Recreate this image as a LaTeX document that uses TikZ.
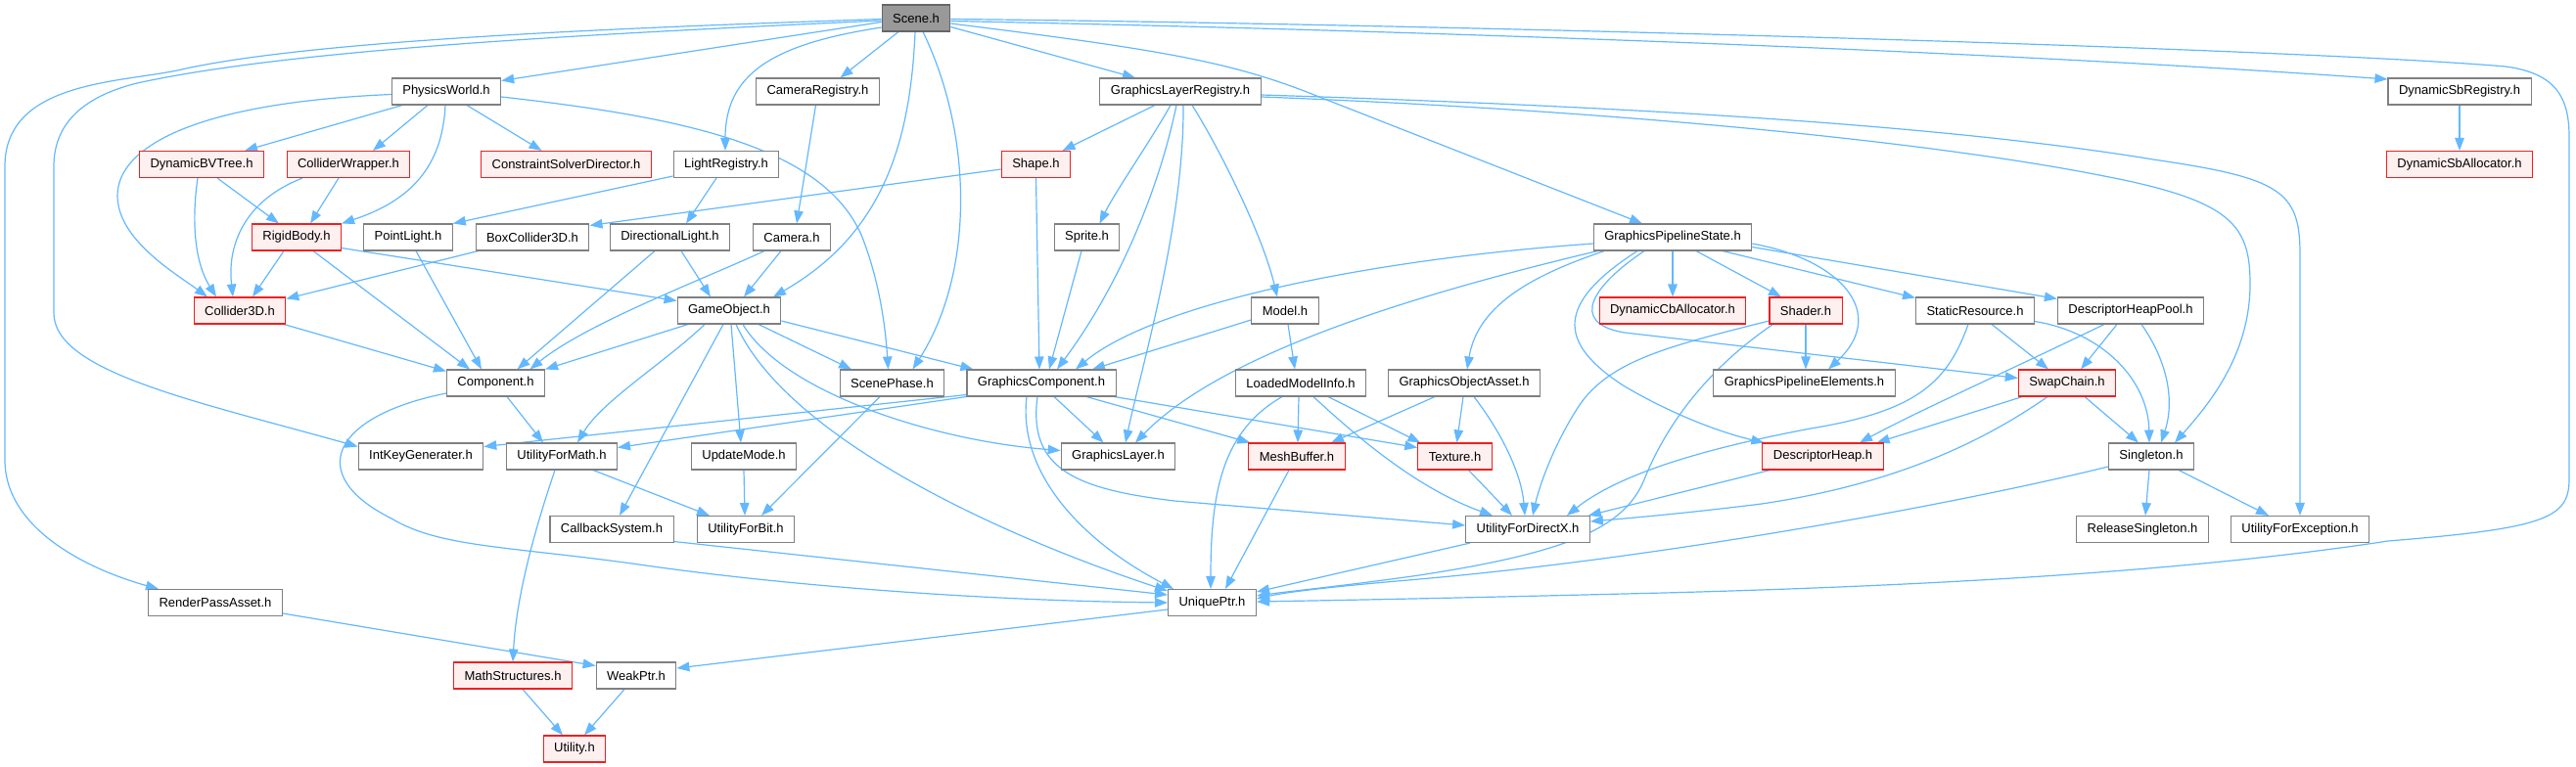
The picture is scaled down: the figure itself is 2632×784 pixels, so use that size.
\documentclass[tikz,border=0pt]{standalone}
\usepackage{fontspec}
\setmainfont{Liberation Sans}
\usetikzlibrary{arrows.meta,calc}
\pgfdeclarelayer{bg}
\pgfsetlayers{bg,main}
\definecolor{edgeblue}{HTML}{63B8FF}
\definecolor{nodegray}{HTML}{808080}
\definecolor{nodered}{HTML}{F02020}
\definecolor{nodefill}{HTML}{FFF0F0}
\definecolor{rootfill}{HTML}{999999}
\definecolor{rootborder}{HTML}{666666}
\begin{document}
\begin{tikzpicture}[x=1pt,y=-1pt,
  box/.style={draw=nodegray, fill=white, line width=1.05pt, minimum height=27pt, inner xsep=11pt, inner ysep=0pt, font=\fontsize{13}{15}\selectfont},
  redbox/.style={box, draw=nodered, fill=nodefill},
  rootbox/.style={box, draw=rootborder, fill=rootfill},
  lnk/.style={draw=edgeblue, line width=1.2pt, -{Triangle[length=13pt,width=9.5pt]}}]
\useasboundingbox (0,0) rectangle (2632,784);
% nodes
\node[rootbox] (scene) at (936,18.5) {Scene.h};
\node[box] (pw) at (456,93.5) {PhysicsWorld.h};
\node[box] (camreg) at (835.5,93.5) {CameraRegistry.h};
\node[box] (glr) at (1206,93.5) {GraphicsLayerRegistry.h};
\node[box] (dsbr) at (2513,93.5) {DynamicSbRegistry.h};
\node[redbox] (bvt) at (206,168) {DynamicBVTree.h};
\node[redbox] (cw) at (356,168) {ColliderWrapper.h};
\node[redbox] (csd) at (578.5,168) {ConstraintSolverDirector.h};
\node[box] (lightreg) at (742,168) {LightRegistry.h};
\node[redbox] (shape) at (1058.5,168) {Shape.h};
\node[redbox] (dsba) at (2513,168) {DynamicSbAllocator.h};
\node[redbox] (rb) at (303,242.5) {RigidBody.h};
\node[box] (pl) at (417,242.5) {PointLight.h};
\node[box] (bc) at (544,242.5) {BoxCollider3D.h};
\node[box] (dl) at (684.5,242.5) {DirectionalLight.h};
\node[box] (cam) at (809,242.5) {Camera.h};
\node[box] (sprite) at (1110.5,242.5) {Sprite.h};
\node[box] (gps) at (1709,242.5) {GraphicsPipelineState.h};
\node[redbox] (c3d) at (245,317.5) {Collider3D.h};
\node[box] (go) at (745,317.5) {GameObject.h};
\node[box] (model) at (1313,317.5) {Model.h};
\node[redbox] (dcba) at (1709,317.5) {DynamicCbAllocator.h};
\node[redbox] (shader) at (1845,317.5) {Shader.h};
\node[box] (sr) at (2018,317.5) {StaticResource.h};
\node[box] (dhp) at (2177,317.5) {DescriptorHeapPool.h};
\node[box] (comp) at (506.5,391.5) {Component.h};
\node[box] (sp) at (911.5,391.5) {ScenePhase.h};
\node[box] (gc) at (1064,391.5) {GraphicsComponent.h};
\node[box] (lmi) at (1329,391.5) {LoadedModelInfo.h};
\node[box] (goa) at (1496,391.5) {GraphicsObjectAsset.h};
\node[box] (gpe) at (1843.5,391.5) {GraphicsPipelineElements.h};
\node[redbox] (sc) at (2112,391.5) {SwapChain.h};
\node[box] (ikg) at (430,466.5) {IntKeyGenerater.h};
\node[box] (ufm) at (574,466.5) {UtilityForMath.h};
\node[box] (um) at (760,466.5) {UpdateMode.h};
\node[box] (gl) at (1142.5,466.5) {GraphicsLayer.h};
\node[redbox] (mb) at (1325,466.5) {MeshBuffer.h};
\node[redbox] (tex) at (1486.5,466.5) {Texture.h};
\node[redbox] (dh) at (1862.5,466.5) {DescriptorHeap.h};
\node[box] (single) at (2198,466.5) {Singleton.h};
\node[box] (cbs) at (625,541) {CallbackSystem.h};
\node[box] (ufb) at (762,541) {UtilityForBit.h};
\node[box] (ufdx) at (1561,541) {UtilityForDirectX.h};
\node[box] (rs) at (2189,541) {ReleaseSingleton.h};
\node[box] (ufe) at (2350,541) {UtilityForException.h};
\node[box] (rpa) at (220,616) {RenderPassAsset.h};
\node[box] (up) at (1238.5,616) {UniquePtr.h};
\node[redbox] (ms) at (524,690.5) {MathStructures.h};
\node[box] (wp) at (650,690.5) {WeakPtr.h};
\node[redbox] (util) at (587,765.5) {Utility.h};
\begin{pgfonlayer}{bg}
% Scene
\draw[lnk] ($(scene.west)+(0,4)$) -- ($(pw.east)+(0,-11)$);
\draw[lnk] ($(scene.west)+(0,1)$) .. controls (650,28) and (330,40) .. (190,70) .. controls (130,85) and (5,80) .. (5,170) -- (5,470) .. controls (5,545) and (100,585) .. ($(rpa.north)+(-58,0)$);
\draw[lnk] ($(scene.west)+(0,2.5)$) .. controls (600,35) and (300,50) .. (140,85) .. controls (80,100) and (55,130) .. (55,170) -- (55,320) .. controls (55,380) and (200,410) .. ($(ikg.west)+(0,-10)$);
\draw[lnk] ($(scene.east)+(0,1)$) .. controls (1500,25) and (2350,50) .. (2560,68) .. controls (2612,75) and (2625,100) .. (2625,140) -- (2625,490) .. controls (2625,530) and (2600,540) .. (2440,553) .. controls (2250,582) and (2000,598) .. (1700,606) .. controls (1500,611) and (1400,613) .. ($(up.east)+(0,-1)$);
\draw[lnk] ($(scene.east)+(0,3)$) .. controls (1400,30) and (2000,50) .. ($(dsbr.north west)+(0,1.5)$);
\draw[lnk] ($(scene.east)+(0,9)$) -- ($(glr.north)+(-46,0)$);
\draw[lnk] ($(scene.east)+(0,5.5)$) .. controls (1180,50) and (1250,62) .. (1330,92) -- ($(gps.north)+(-31,0)$);
\draw[lnk] ($(scene.south)+(-18,0)$) -- ($(camreg.north)+(23,0)$);
\draw[lnk] ($(scene.west)+(0,9.5)$) .. controls (790,45) and (741,75) .. ($(lightreg.north)+(-1,0)$);
\draw[lnk] ($(scene.south)+(-1,0)$) .. controls (930,150) and (900,240) .. ($(go.north)+(45,0)$);
\draw[lnk] ($(scene.south)+(7,0)$) .. controls (995,140) and (995,280) .. ($(sp.north)+(21,0)$);
% PhysicsWorld
\draw[lnk] ($(pw.south)+(-45,0)$) -- ($(bvt.north)+(44,0)$);
\draw[lnk] ($(pw.south)+(-19,0)$) -- ($(cw.north)+(25,0)$);
\draw[lnk] ($(pw.south)+(21,0)$) -- ($(csd.north)+(-25,0)$);
\draw[lnk] ($(pw.south)+(-1,0)$) .. controls (452,170) and (420,205) .. (rb.north east);
\draw[lnk] ($(pw.west)+(0,3)$) .. controls (200,105) and (120,150) .. (120,200) .. controls (120,245) and (180,280) .. ($(c3d.north)+(-33,0)$);
\draw[lnk] ($(pw.east)+(0,5.5)$) .. controls (700,120) and (840,150) .. (880,240) .. controls (900,290) and (905,340) .. ($(sp.north)+(-4,0)$);
% BVT, CW
\draw[lnk] ($(bvt.south)+(16,0)$) -- ($(rb.north)+(-18,0)$);
\draw[lnk] ($(bvt.south)+(-4,0)$) .. controls (195,230) and (200,270) .. ($(c3d.north)+(-24,0)$);
\draw[lnk] ($(cw.south)+(-10,0)$) -- ($(rb.north)+(14,0)$);
\draw[lnk] ($(cw.south)+(-47,0)$) .. controls (250,205) and (232,250) .. ($(c3d.north)+(-7,0)$);
% LightRegistry, CameraRegistry
\draw[lnk] ($(lightreg.west)+(0,12)$) -- (pl.north east);
\draw[lnk] ($(lightreg.south)+(-10,0)$) -- ($(dl.north)+(16.5,0)$);
\draw[lnk] ($(camreg.south)+(-2,0)$) -- ($(cam.north)+(5,0)$);
% GraphicsLayerRegistry
\draw[lnk] ($(glr.south)+(-26,0)$) -- ($(shape.north)+(27,0)$);
\draw[lnk] ($(glr.south)+(-10,0)$) .. controls (1175,145) and (1140,195) .. ($(sprite.north)+(13,0)$);
\draw[lnk] ($(glr.south)+(-4,0)$) .. controls (1185,190) and (1145,290) .. ($(gc.north)+(16,0)$);
\draw[lnk] ($(glr.south)+(3,0)$) .. controls (1210,230) and (1165,380) .. ($(gl.north)+(7.5,0)$);
\draw[lnk] ($(glr.south)+(12,0)$) .. controls (1245,150) and (1290,240) .. ($(model.north)+(-8,0)$);
\draw[lnk] ($(glr.east)+(0,3.5)$) .. controls (1700,110) and (2000,130) .. (2200,163) .. controls (2330,182) and (2350,195) .. (2350,260) -- (ufe.north);
\draw[lnk] ($(glr.east)+(0,5.5)$) .. controls (1700,115) and (2000,150) .. (2150,180) .. controls (2280,205) and (2299,230) .. (2299,290) .. controls (2299,360) and (2260,410) .. ($(single.north)+(24,0)$);
% Shape, Sprite
\draw[lnk] (shape.south) -- ($(gc.north)+(-2,0)$);
\draw[lnk] ($(shape.west)+(0,5)$) -- ($(bc.north east)+(0,2)$);
\draw[lnk] ($(sprite.south)+(-5.5,0)$) -- ($(gc.north)+(8,0)$);
% DirectionalLight, Camera
\draw[lnk] ($(dl.south)+(11.5,0)$) -- ($(go.north)+(-19,0)$);
\draw[lnk] ($(dl.south)+(-15.5,0)$) -- ($(comp.north)+(22,0)$);
\draw[lnk] ($(cam.south)+(-11,0)$) -- ($(go.north)+(15,0)$);
\draw[lnk] ($(cam.south)+(-28,0)$) .. controls (720,285) and (600,330) .. ($(comp.north)+(35,0)$);
% RigidBody, PointLight, BoxCollider3D, Collider3D
\draw[lnk] ($(rb.south)+(-13,0)$) -- ($(c3d.north)+(13,0)$);
\draw[lnk] ($(rb.south)+(17,0)$) -- ($(comp.north)+(-26.5,0)$);
\draw[lnk] ($(rb.east)+(0,11)$) -- ($(go.west)+(0,-10)$);
\draw[lnk] ($(pl.south)+(8,0)$) -- ($(comp.north)+(-14.5,0)$);
\draw[lnk] ($(bc.south west)+(3,0)$) -- ($(c3d.north east)+(0,2)$);
\draw[lnk] ($(c3d.south east)+(-2,0)$) -- ($(comp.north west)+(0,2)$);
% GameObject
\draw[lnk] ($(go.south)+(-42,0)$) -- (comp.north east);
\draw[lnk] ($(go.south)+(-25,0)$) .. controls (680,370) and (615,410) .. ($(ufm.north)+(16,0)$);
\draw[lnk] ($(go.south)+(-6,0)$) -- ($(cbs.north)+(8,0)$);
\draw[lnk] ($(go.south)+(2,0)$) -- ($(um.north)+(-3,0)$);
\draw[lnk] ($(go.south)+(7,0)$) .. controls (800,440) and (1000,540) .. ($(up.north west)+(0,2)$);
\draw[lnk] ($(go.south)+(14,0)$) .. controls (800,400) and (950,450) .. ($(gl.west)+(0,-6)$);
\draw[lnk] ($(go.south)+(30,0)$) -- ($(sp.north)+(-41.5,0)$);
\draw[lnk] ($(go.east)+(0,10.5)$) -- ($(gc.north west)+(7,0)$);
% Component
\draw[lnk] ($(comp.south)+(11.5,0)$) -- ($(ufm.north)+(-19,0)$);
\draw[lnk] ($(comp.west)+(0,10.5)$) .. controls (340,425) and (310,485) .. (400,530) .. controls (450,560) and (520,558) .. (660,578) .. controls (800,598) and (1000,614) .. (up.west);
% UtilityForMath, ScenePhase, UpdateMode
\draw[lnk] ($(ufm.south)+(32,0)$) -- ($(ufb.north)+(-37,0)$);
\draw[lnk] ($(ufm.south)+(-7,0)$) .. controls (540,560) and (527,620) .. (ms.north);
\draw[lnk] ($(sp.south)+(-12.5,0)$) -- ($(ufb.north)+(16,0)$);
\draw[lnk] (um.south) -- ($(ufb.north)+(-1,0)$);
% GraphicsComponent
\draw[lnk] ($(gc.south west)+(0,-2)$) -- ($(ikg.east)+(0,-10)$);
\draw[lnk] (gc.south west) -- ($(ufm.east)+(0,-9)$);
\draw[lnk] ($(gc.south)+(13,0)$) -- ($(gl.north)+(-15,0)$);
\draw[lnk] ($(gc.south)+(46,0)$) -- ($(mb.north west)+(2,0)$);
\draw[lnk] ($(gc.south east)+(-2,0)$) -- ($(tex.west)+(0,-9)$);
\draw[lnk] ($(gc.south)+(-4,0)$) .. controls (1050,480) and (1100,500) .. (1200,512) -- ($(ufdx.west)+(0,-4)$);
\draw[lnk] ($(gc.south)+(-15,0)$) .. controls (1040,480) and (1100,550) .. ($(up.north west)+(6,0)$);
% Model
\draw[lnk] ($(model.west)+(0,9.5)$) -- ($(gc.north)+(52,0)$);
\draw[lnk] ($(model.south)+(3,0)$) -- ($(lmi.north)+(-6,0)$);
% GraphicsPipelineState
\draw[lnk] ($(gps.west)+(0,6.5)$) .. controls (1400,265) and (1180,310) .. ($(gc.north)+(35,0)$);
\draw[lnk] ($(gps.south west)+(4.5,0)$) .. controls (1450,300) and (1250,360) .. ($(gl.north)+(17.5,0)$);
\draw[lnk] ($(gps.south west)+(11.5,0)$) .. controls (1570,280) and (1510,310) .. ($(goa.north)+(3,0)$);
\draw[lnk] (gps.south) -- (dcba.north);
\draw[lnk] ($(gps.south)+(24,0)$) -- ($(shader.north)+(-25,0)$);
\draw[lnk] ($(gps.east)+(0,6.5)$) .. controls (1880,265) and (1930,320) .. ($(gpe.north)+(24.5,0)$);
\draw[lnk] ($(gps.south)+(-29,0)$) .. controls (1630,290) and (1600,330) .. (1660,340) -- ($(sc.west)+(0,-5)$);
\draw[lnk] ($(gps.south)+(-36,0)$) .. controls (1590,310) and (1590,350) .. (1660,395) .. controls (1720,430) and (1770,445) .. ($(dh.north west)+(2,0)$);
\draw[lnk] ($(gps.south)+(51,0)$) -- ($(sr.north west)+(0,1)$);
\draw[lnk] ($(gps.east)+(0,10)$) -- ($(dhp.north west)+(0,2)$);
% Shader
\draw[lnk] (shader.south) -- ($(gpe.north)+(1.5,0)$);
\draw[lnk] ($(shader.west)+(0,10.5)$) .. controls (1700,355) and (1640,370) .. (1610,420) .. controls (1585,460) and (1572,500) .. ($(ufdx.north)+(5,0)$);
\draw[lnk] ($(shader.south west)+(4,0)$) .. controls (1740,380) and (1700,440) .. (1680,490) .. controls (1660,540) and (1600,565) .. (1450,588) .. controls (1380,598) and (1320,604) .. ($(up.east)+(0,-7)$);
% StaticResource
\draw[lnk] ($(sr.south)+(17,0)$) -- ($(sc.north)+(-19,0)$);
\draw[lnk] ($(sr.south)+(-7,0)$) .. controls (1990,390) and (1960,420) .. (1850,438) .. controls (1760,455) and (1660,480) .. ($(ufdx.north east)+(-24,0)$);
\draw[lnk] ($(sr.south east)+(0,-3)$) .. controls (2150,340) and (2195,390) .. ($(single.north)+(-2,0)$);
% DescriptorHeapPool
\draw[lnk] ($(dhp.south)+(-14,0)$) -- ($(sc.north)+(14,0)$);
\draw[lnk] ($(dhp.south)+(-27,0)$) .. controls (2050,380) and (1960,420) .. ($(dh.north)+(37.5,0)$);
\draw[lnk] ($(dhp.south)+(11,0)$) .. controls (2215,370) and (2222,410) .. ($(single.north)+(10,0)$);
% SwapChain
\draw[lnk] ($(sc.south west)+(4.5,0)$) -- ($(dh.north east)+(-7,0)$);
\draw[lnk] ($(sc.south)+(-20,0)$) .. controls (2000,470) and (1900,500) .. (1800,515) .. controls (1720,525) and (1660,530) .. ($(ufdx.east)+(0,-8)$);
\draw[lnk] ($(sc.south)+(18,0)$) -- ($(single.north)+(-13,0)$);
% DescriptorHeap
\draw[lnk] ($(dh.south west)+(8,0)$) -- ($(ufdx.north east)+(-2,0)$);
% Singleton
\draw[lnk] ($(single.south)+(-2,0)$) -- ($(rs.north)+(3,0)$);
\draw[lnk] ($(single.south)+(28,0)$) -- ($(ufe.north)+(-32,0)$);
\draw[lnk] ($(single.west)+(0,10.5)$) .. controls (2000,515) and (1700,570) .. (1450,592) .. controls (1380,598) and (1320,604) .. ($(up.east)+(0,-4)$);
% UtilityForDirectX
\draw[lnk] ($(ufdx.south west)+(5,0)$) -- ($(up.north east)+(0,3)$);
% LoadedModelInfo
\draw[lnk] ($(lmi.south)+(-2,0)$) -- ($(mb.north)+(1,0)$);
\draw[lnk] ($(lmi.south)+(28,0)$) -- ($(tex.north west)+(3,0)$);
\draw[lnk] ($(lmi.south)+(13,0)$) .. controls (1390,450) and (1450,500) .. ($(ufdx.north)+(-36,0)$);
\draw[lnk] ($(lmi.south)+(-19,0)$) .. controls (1250,440) and (1237,500) .. ($(up.north)+(-1.5,0)$);
% MeshBuffer, GraphicsObjectAsset, Texture
\draw[lnk] ($(mb.south)+(-8,0)$) -- ($(up.north)+(13.5,0)$);
\draw[lnk] ($(goa.south)+(-30,0)$) -- ($(mb.north)+(35,0)$);
\draw[lnk] ($(goa.south)+(-1,0)$) -- ($(tex.north)+(2,0)$);
\draw[lnk] ($(goa.south)+(10,0)$) .. controls (1540,450) and (1555,490) .. ($(ufdx.north)+(-3,0)$);
\draw[lnk] ($(tex.south)+(14,0)$) -- ($(ufdx.north)+(-16,0)$);
% CallbackSystem, RenderPassAsset, MathStructures, WeakPtr, UniquePtr, DynamicSbRegistry
\draw[lnk] ($(cbs.south east)+(0,-1.5)$) -- ($(up.west)+(0,-8)$);
\draw[lnk] ($(rpa.east)+(0,11)$) -- ($(wp.west)+(0,-10)$);
\draw[lnk] ($(ms.south)+(10,0)$) -- ($(util.north)+(-12,0)$);
\draw[lnk] ($(wp.south)+(-12,0)$) -- ($(util.north)+(10,0)$);
\draw[lnk] ($(up.west)+(0,7)$) -- ($(wp.east)+(0,-7.5)$);
\draw[lnk] (dsbr.south) -- (dsba.north);
\end{pgfonlayer}
\end{tikzpicture}
\end{document}
